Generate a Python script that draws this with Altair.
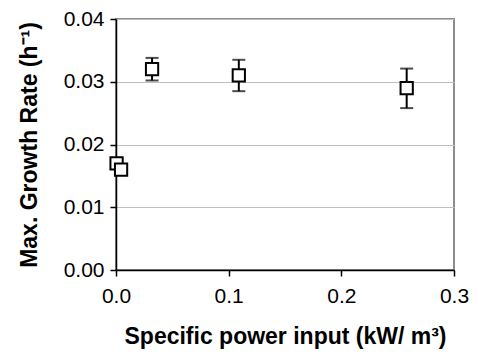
import altair as alt
import pandas as pd

power = [0.0005, 0.0045, 0.032, 0.109, 0.258]
rate = [0.017, 0.016, 0.032, 0.031, 0.029]
err_lo = [None, None, 0.0302, 0.0285, 0.0258]
err_hi = [None, None, 0.0338, 0.0335, 0.0321]

x_ticks = [0.0, 0.1, 0.2, 0.3]
y_ticks = [0.0, 0.01, 0.02, 0.03, 0.04]

df = pd.DataFrame({"x": power, "y": rate, "lo": err_lo, "hi": err_hi})
dfe = df.dropna()

FONT = "Liberation Sans"

xenc = alt.X("x:Q", scale=alt.Scale(domain=[0, 0.3], nice=False, zero=False),
             axis=alt.Axis(values=x_ticks, format=".1f", grid=False, labelFlush=False,
                           title="Specific power input (kW/ m³)", titlePadding=19))
yenc = alt.Y("y:Q", scale=alt.Scale(domain=[0, 0.04], nice=False),
             axis=alt.Axis(values=y_ticks, format=".2f", grid=True, labelFlush=False,
                           title="Max. Growth Rate (h⁻¹)", titlePadding=22))

rules = alt.Chart(dfe).mark_rule(color="black", strokeWidth=2).encode(
    x="x:Q", y="lo:Q", y2="hi:Q")
cap_lo = alt.Chart(dfe).mark_tick(color="black", orient="horizontal", size=13, thickness=2).encode(
    x="x:Q", y="lo:Q")
cap_hi = alt.Chart(dfe).mark_tick(color="black", orient="horizontal", size=13, thickness=2).encode(
    x="x:Q", y="hi:Q")
pts = alt.Chart(df).mark_point(shape="square", size=150, filled=True, fill="white",
                               stroke="black", strokeWidth=2, opacity=1).encode(
    x=xenc, y=yenc)

chart = alt.layer(rules, cap_lo, cap_hi, pts).properties(
    width=338, height=251,
    autosize=alt.AutoSizeParams(type="none"),
    padding={"left": 108, "top": 11, "right": 16, "bottom": 81},
).configure_view(
    stroke="#8c8c8c", strokeWidth=2
).configure_axis(
    domainColor="black", domainWidth=1.5, tickColor="black", tickSize=6, tickWidth=1.5,
    gridColor="#c0c0c0", gridWidth=1,
    labelFont=FONT, labelFontSize=21, labelColor="black", labelPadding=6,
    titleFont=FONT, titleFontSize=23, titleFontWeight="bold", titleColor="black",
).configure_axisX(labelPadding=9)

chart.save("out.html", embed_options={"renderer": "svg", "actions": False})
